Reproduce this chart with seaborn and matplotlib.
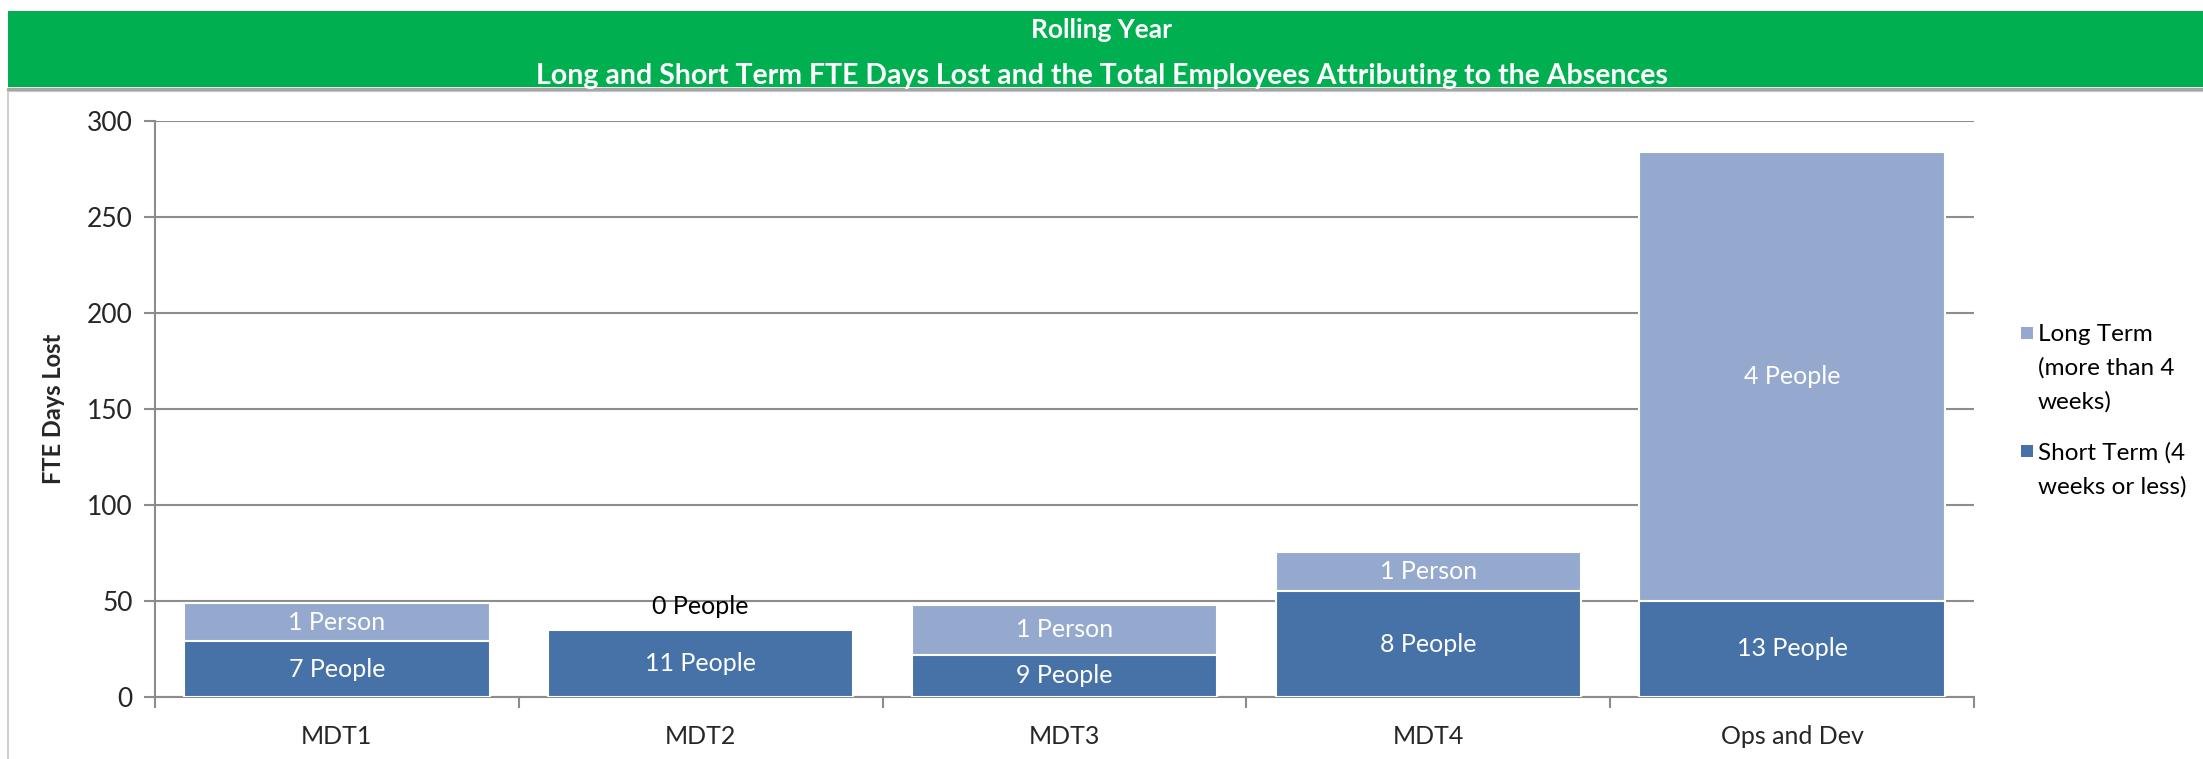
import numpy as np
import matplotlib
matplotlib.use("Agg")
import matplotlib.pyplot as plt
import seaborn as sns
from matplotlib.patches import Rectangle
from matplotlib.lines import Line2D

# ---------------------------------------------------------------------------
# Data
# ---------------------------------------------------------------------------
teams = ["MDT1", "MDT2", "MDT3", "MDT4", "Ops and Dev"]
short_term = [29, 35, 22, 55, 50]          # FTE days lost, 4 weeks or less
long_term = [20, 0, 26, 20.5, 234]         # FTE days lost, more than 4 weeks
short_people = ["7 People", "11 People", "9 People", "8 People", "13 People"]
long_people = ["1 Person", "0 People", "1 Person", "1 Person", "4 People"]
y_ticks = [0, 50, 100, 150, 200, 250, 300]
legend_labels = ["Long Term\n(more than 4\nweeks)", "Short Term (4\nweeks or less)"]

DARK = "#4672A7"
LIGHT = "#95A9CF"
GREEN = "#00B050"
GRID = "#8C8C8C"

sns.set_theme(style="white")
plt.rcParams["font.family"] = ["Lato", "DejaVu Sans"]

W, H = 2203, 759
fig = plt.figure(figsize=(W / 100, H / 100), dpi=100)

# header band + outer chart frame
fig.patches.append(Rectangle((8 / W, 1 - 87 / H), 1, 76 / H, transform=fig.transFigure,
                             facecolor=GREEN, edgecolor="none", zorder=0))
fig.lines.append(Line2D([8 / W, 1], [1 - 88.5 / H, 1 - 88.5 / H], transform=fig.transFigure,
                        color="#A6A6A6", lw=2.5))
fig.patches.append(Rectangle((8 / W, -0.01), 1, 1 - 91 / H + 0.01, transform=fig.transFigure,
                             facecolor="none", edgecolor="#D0D0D0", lw=1.5, zorder=0))
fig.text(0.5, 1 - 30 / H, "Rolling Year", ha="center", va="center", color="white",
         fontsize=19, fontweight="bold")
fig.text(0.5, 1 - 76 / H,
         "Long and Short Term FTE Days Lost and the Total Employees Attributing to the Absences",
         ha="center", va="center", color="white", fontsize=20.5, fontweight="bold")

ax = fig.add_axes([155 / W, 1 - 697 / H, (1974 - 155) / W, (697 - 121) / H])

totals = [s + l for s, l in zip(short_term, long_term)]
sns.barplot(x=teams, y=totals, color=LIGHT, saturation=1, width=0.84,
            edgecolor="white", linewidth=1.5, ax=ax, zorder=3)
sns.barplot(x=teams, y=short_term, color=DARK, saturation=1, width=0.84,
            edgecolor="white", linewidth=1.5, ax=ax, zorder=4)

for i, (s, l) in enumerate(zip(short_term, long_term)):
    ax.text(i, s / 2, short_people[i], ha="center", va="center", color="white",
            fontsize=18, zorder=6)
    if l > 0:
        ax.text(i, s + l / 2, long_people[i], ha="center", va="center", color="white",
                fontsize=18, zorder=6)
    else:
        ax.text(i, s + 12, long_people[i], ha="center", va="center", color="black",
                fontsize=18, zorder=6)

ax.set_ylim(0, 300)
ax.set_xlim(-0.5, len(teams) - 0.5)
ax.set_yticks(y_ticks)
ax.yaxis.grid(True, color=GRID, lw=1.5)
ax.set_axisbelow(True)

# category boundary ticks on the x axis
ax.set_xticks(np.arange(-0.5, len(teams)), minor=True)
ax.tick_params(axis="x", which="major", length=0, pad=20, labelsize=18)
ax.tick_params(axis="x", which="minor", length=8, width=1.5, color=GRID, direction="out")
ax.tick_params(axis="y", length=8, width=1.5, color=GRID, direction="out", pad=8,
               labelsize=19)
ax.tick_params(bottom=True, left=True, which="both")

for side in ["top", "right"]:
    ax.spines[side].set_visible(False)
for side in ["left", "bottom"]:
    ax.spines[side].set_color(GRID)
    ax.spines[side].set_linewidth(1.5)

ax.set_xlabel("")
ax.set_ylabel("FTE Days Lost", fontsize=17, fontweight="bold", labelpad=16)

# legend drawn by hand so each marker sits beside the first line of its entry
legend_rows = [333, 451]   # pixel rows of the first text line
for label, color, row in zip(legend_labels, [LIGHT, DARK], legend_rows):
    fig.patches.append(Rectangle((2021 / W, 1 - (row + 6) / H), 12 / W, 12 / H,
                                 transform=fig.transFigure, facecolor=color,
                                 edgecolor="none"))
    fig.text(2038 / W, 1 - (row - 9) / H, label, ha="left", va="top",
             fontsize=17.5, linespacing=1.7, color="black")

fig.savefig("out.png", dpi=100)
